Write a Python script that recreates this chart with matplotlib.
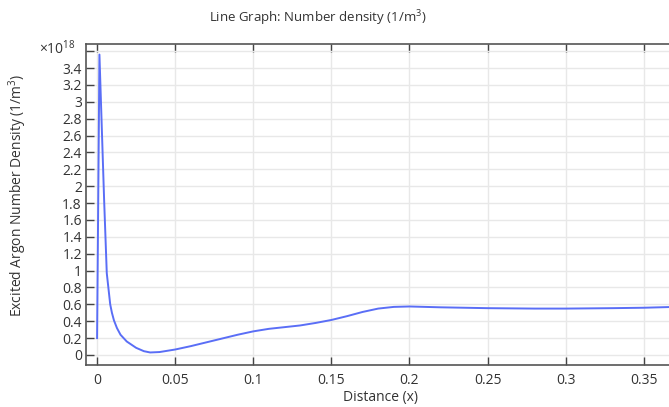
import matplotlib
matplotlib.use("Agg")
import matplotlib.pyplot as plt
from matplotlib.ticker import FuncFormatter, MultipleLocator

# Data (distance in m, density in 1/m^3)
distance = [0, 0.0015, 0.0045, 0.0062, 0.0084, 0.0095, 0.0108, 0.0127, 0.015, 0.019, 0.025, 0.03,
            0.034, 0.04, 0.05, 0.06, 0.07, 0.08, 0.09, 0.1, 0.11, 0.12, 0.13, 0.14,
            0.15, 0.16, 0.17, 0.18, 0.19, 0.2, 0.22, 0.25, 0.28, 0.3, 0.33, 0.35, 0.37]
density_e18 = [0.2, 3.56, 1.84, 0.97, 0.6, 0.5, 0.41, 0.32, 0.24, 0.16, 0.085, 0.045,
               0.03, 0.035, 0.065, 0.105, 0.15, 0.195, 0.24, 0.28, 0.31, 0.33, 0.35, 0.38,
               0.415, 0.46, 0.51, 0.55, 0.57, 0.575, 0.565, 0.555, 0.55, 0.55, 0.555, 0.56, 0.57]
density = [v * 1e18 for v in density_e18]

title = "Line Graph: Number density (1/m$^3$)"
xlabel = "Distance (x)"
ylabel = "Excited Argon Number Density (1/m$^3$)"

plt.rcParams['font.family'] = ['Open Sans', 'DejaVu Sans']
plt.rcParams['mathtext.fontset'] = 'custom'
plt.rcParams['mathtext.rm'] = 'Open Sans'

fig = plt.figure(figsize=(6.69, 4.07), dpi=100)
ax = fig.add_axes([86/669, 1 - 365/407, 1 - 86/669 + 0.01, (365 - 44)/407])

ax.plot(distance, density, color='#5a6ef6', lw=1.4)

ax.set_xlim(-0.0071, 0.3705)
ax.set_ylim(-0.1185e18, 3.685e18)
ax.xaxis.set_major_locator(MultipleLocator(0.05))
ax.yaxis.set_major_locator(MultipleLocator(0.2e18))
ax.xaxis.set_major_formatter(FuncFormatter(lambda v, p: f"{v:g}"))


def yfmt(v, p):
    if v > 3.5e18:
        return ""
    if abs(v) < 1e10:
        return "0"
    return f"{v/1e18:.1f}".rstrip('0').rstrip('.')


ax.yaxis.set_major_formatter(FuncFormatter(yfmt))

ax.grid(True, color='#e8e8e8', lw=1)
ax.set_axisbelow(True)
for s in ['left', 'bottom', 'top']:
    ax.spines[s].set_color('#555555')
    ax.spines[s].set_linewidth(1.2)
ax.spines['right'].set_visible(False)
ax.tick_params(axis='both', direction='in', length=6, width=1, color='#444444',
               labelsize=10, labelcolor='#333333', top=True)
ax.tick_params(axis='y', pad=3)
ax.tick_params(axis='x', pad=6)

ax.set_xlabel(xlabel, fontsize=10, color='#333333', labelpad=1)
ax.set_ylabel(ylabel, fontsize=10, color='#333333', va='center')
ax.yaxis.set_label_coords(-0.115, 0.53)
fig.text(318/669, 1 - 18/407, title, fontsize=9.5, color='#333333', ha='center', va='center')
fig.text(76/669, 1 - 49/407, r"×10$^{18}$", fontsize=10, color='#333333', ha='right', va='center')

fig.savefig("out.png", dpi=100)
